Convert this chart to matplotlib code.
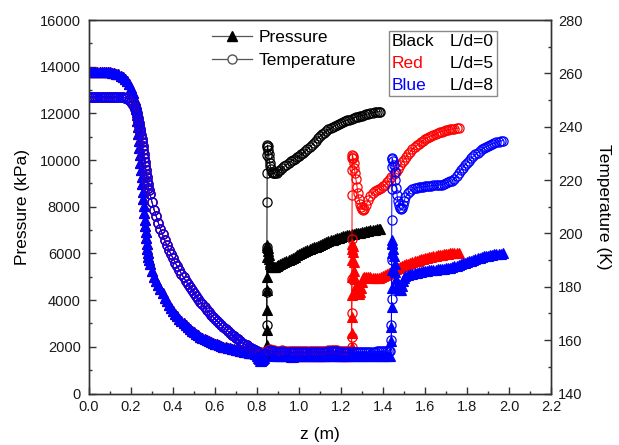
import matplotlib
matplotlib.use("Agg")
import matplotlib.pyplot as plt
from matplotlib.lines import Line2D
from matplotlib.patches import Rectangle
from matplotlib.ticker import MultipleLocator, FormatStrFormatter

plt.rcParams["font.family"] = ["Liberation Sans", "DejaVu Sans"]

# ---------------------------------------------------------------------------
# Converging section (identical for all three cases)
# ---------------------------------------------------------------------------
z_inlet = [0.00, 0.01, 0.02, 0.03, 0.04, 0.05, 0.06, 0.07, 0.08, 0.09, 0.10, 0.11,
           0.12, 0.13, 0.14, 0.15, 0.16, 0.17, 0.18, 0.19, 0.20, 0.21, 0.22,
           0.2225, 0.225, 0.2275, 0.23, 0.2325, 0.235, 0.2375, 0.24, 0.2425, 0.245,
           0.2475, 0.25, 0.2525, 0.255, 0.2575, 0.26, 0.2625, 0.265, 0.2675, 0.27,
           0.2725, 0.275, 0.2775, 0.28, 0.2825, 0.285,
           0.29, 0.30, 0.31, 0.32, 0.33, 0.34, 0.35, 0.36, 0.37, 0.38, 0.39, 0.40,
           0.41, 0.42, 0.43, 0.44, 0.45, 0.46, 0.47, 0.48, 0.49, 0.50, 0.51, 0.52,
           0.53, 0.54, 0.55, 0.56, 0.57, 0.58, 0.59, 0.60, 0.61, 0.62, 0.63, 0.64,
           0.65, 0.66, 0.67, 0.68, 0.69, 0.70, 0.71, 0.72, 0.73, 0.74, 0.75, 0.76,
           0.77, 0.78, 0.79]
p_inlet = [13780, 13780, 13780, 13780, 13780, 13780, 13778, 13773, 13768, 13763, 13755,
           13745, 13730, 13705, 13670, 13620, 13560, 13480, 13380, 13250, 13090, 12870,
           12560,
           12400, 12200, 11950, 11680, 11420, 11120, 10820, 10520, 10200, 9890, 9570,
           9270, 8960, 8650, 8340, 8040, 7740, 7450, 7180, 6910, 6660, 6420, 6210,
           6010, 5830, 5700,
           5550, 5250, 5010, 4810, 4630, 4460, 4290, 4110, 3950, 3800, 3670, 3550,
           3420, 3310, 3210, 3120, 3030, 2940, 2855, 2775, 2695, 2620, 2560, 2500,
           2440, 2390, 2340, 2290, 2250, 2210, 2170, 2130, 2100, 2070, 2040, 2010,
           1985, 1960, 1940, 1915, 1895, 1875, 1855, 1835, 1815, 1795, 1775, 1755,
           1735, 1715, 1695]
t_inlet = [251.2, 251.2, 251.2, 251.2, 251.2, 251.2, 251.2, 251.2, 251.2, 251.2, 251.2,
           251.2, 251.2, 251.2, 251.2, 251.2, 251.1, 250.9, 250.6, 250.1, 249.4, 248.3,
           246.8,
           246.5, 245.9, 245.1, 244.2, 243.3, 242.3, 241.3, 240.2, 239.1, 238.0, 236.8,
           235.5, 234.2, 232.8, 231.4, 229.9, 228.4, 226.9, 225.4, 223.9, 222.4, 221.0,
           219.7, 218.4, 217.1, 216.1,
           214.7, 211.7, 208.9, 206.4, 204.0, 201.7, 199.6, 197.6, 195.6, 193.9, 192.3,
           190.7, 189.1, 187.7, 186.3, 184.9, 183.6, 182.3, 181.1, 179.9, 178.7, 177.6,
           176.5, 175.4, 174.4, 173.4, 172.4, 171.4, 170.5, 169.6, 168.8, 168.0, 167.2,
           166.4, 165.6, 164.8, 164.1, 163.4, 162.7, 162.1, 161.5, 160.9, 160.3, 159.7,
           159.1, 158.6, 158.1, 157.6, 157.1, 156.7, 156.3]

# ---------------------------------------------------------------------------
# L/d = 0 (black)
# ---------------------------------------------------------------------------
z_ld0 = [0.80, 0.81, 0.82, 0.83, 0.84, 0.8455,
         0.846, 0.8465, 0.847, 0.8475, 0.848, 0.8485, 0.849, 0.8495,
         0.851, 0.853, 0.855, 0.857, 0.860, 0.864, 0.868, 0.873, 0.878, 0.883, 0.888, 0.895,
         0.90, 0.91, 0.92, 0.93, 0.94, 0.95, 0.96, 0.97, 0.98, 0.99, 1.00, 1.01, 1.02,
         1.03, 1.04, 1.05, 1.06, 1.07, 1.08, 1.09, 1.10, 1.11, 1.12, 1.13, 1.14, 1.15,
         1.16, 1.17, 1.18, 1.19, 1.20, 1.21, 1.22, 1.23, 1.24, 1.25, 1.26, 1.27, 1.28,
         1.29, 1.30, 1.31, 1.32, 1.33, 1.34, 1.35, 1.36, 1.37, 1.38, 1.385]
p_ld0 = [1680, 1660, 1645, 1630, 1620, 1640,
         2060, 2700, 3560, 4420, 5000, 5850, 6280, 6350,
         6250, 6100, 5920, 5760, 5620, 5530, 5460, 5420, 5410, 5420, 5440, 5470,
         5495, 5535, 5575, 5615, 5660, 5715, 5765, 5815, 5865, 5915, 5965, 6010, 6050,
         6095, 6135, 6175, 6215, 6255, 6295, 6335, 6375, 6415, 6460, 6500, 6530, 6560,
         6590, 6620, 6650, 6680, 6710, 6735, 6755, 6775, 6795, 6815, 6835, 6855, 6875,
         6895, 6915, 6935, 6955, 6975, 6995, 7010, 7020, 7030, 7040, 7045]
t_ld0 = [156.0, 155.6, 155.3, 155.0, 154.8, 156.0,
         165.5, 178.0, 194.9, 211.8, 222.5, 229.3, 232.5, 233.1,
         232.6, 231.4, 229.8, 228.2, 226.4, 225.1, 224.0, 223.2, 222.8, 222.6, 222.6, 222.8,
         223.3, 223.9, 224.6, 225.2, 225.8, 226.5, 227.0, 227.5, 228.0, 228.5, 229.0, 229.6,
         230.2, 230.9, 231.5, 232.3, 233.0, 233.9, 234.8, 235.6, 236.4, 237.1, 237.8, 238.4,
         239.0, 239.5, 239.9, 240.3, 240.7, 241.1, 241.5, 241.8, 242.1, 242.4, 242.7, 243.0,
         243.3, 243.6, 243.8, 244.0, 244.2, 244.4, 244.6, 244.8, 245.0, 245.2, 245.4, 245.5,
         245.6, 245.7]

# ---------------------------------------------------------------------------
# L/d = 5 (red)
# ---------------------------------------------------------------------------
z_ld5 = [0.80, 0.81, 0.82, 0.83, 0.84, 0.85, 0.86, 0.87, 0.88, 0.89, 0.90, 0.91, 0.92,
         0.93, 0.94, 0.95, 0.96, 0.97, 0.98, 0.99, 1.00, 1.01, 1.02, 1.03, 1.04, 1.05,
         1.06, 1.07, 1.08, 1.09, 1.10, 1.11, 1.12, 1.13, 1.14, 1.15, 1.16, 1.17, 1.18,
         1.19, 1.20, 1.21, 1.22, 1.23, 1.24,
         1.250, 1.2505, 1.251, 1.2515, 1.252, 1.2525, 1.253, 1.2535, 1.254,
         1.256, 1.258, 1.261, 1.264, 1.267, 1.271, 1.276, 1.281, 1.286, 1.291, 1.296,
         1.301, 1.306, 1.311,
         1.32, 1.33, 1.34, 1.35, 1.36, 1.37, 1.38, 1.39, 1.40, 1.41, 1.42, 1.43, 1.44,
         1.45, 1.46, 1.47, 1.48, 1.49, 1.50, 1.51, 1.52, 1.53, 1.54, 1.55, 1.56, 1.57,
         1.58, 1.59, 1.60, 1.61, 1.62, 1.63, 1.64, 1.65, 1.66, 1.67, 1.68, 1.69, 1.70,
         1.71, 1.72, 1.73, 1.74, 1.75, 1.76]
p_ld5 = [1650, 1640, 1630, 1625, 1630, 1660, 1675, 1665, 1645, 1630, 1625, 1630, 1635,
         1630, 1620, 1610, 1605, 1605, 1610, 1615, 1620, 1620, 1615, 1610, 1610, 1615,
         1620, 1625, 1625, 1620, 1615, 1615, 1620, 1625, 1630, 1630, 1630, 1630, 1630,
         1625, 1620, 1615, 1610, 1610, 1610,
         1760, 1990, 2600, 3270, 4200, 4990, 5700, 6200, 6420,
         6330, 6050, 5650, 5250, 4920, 4620, 4420, 4310, 4280, 4340, 4530, 4780, 4930, 4990,
         5000, 4990, 4980, 4965, 4955, 4950, 4958, 4980, 5020, 5070, 5120, 5170, 5220,
         5270, 5320, 5370, 5410, 5450, 5490, 5530, 5565, 5600, 5635, 5665, 5695, 5720,
         5750, 5775, 5800, 5825, 5845, 5865, 5885, 5905, 5920, 5935, 5950, 5965, 5980,
         5990, 6000, 6010, 6020, 6030, 6040]
t_ld5 = [155.9, 155.6, 155.4, 155.3, 155.5, 156.2, 156.5, 156.4, 156.2, 156.1, 156.0,
         156.1, 156.2, 156.1, 156.0, 155.9, 155.8, 155.8, 155.9, 156.0, 156.0, 156.0,
         155.9, 155.9, 155.9, 155.9, 156.0, 156.1, 156.1, 156.0, 155.9, 155.9, 156.0,
         156.1, 156.2, 156.2, 156.2, 156.2, 156.2, 156.1, 156.0, 155.9, 155.8, 155.8, 155.8,
         157.3, 161.1, 170.0, 183.0, 198.0, 214.3, 223.7, 228.1, 229.3,
         229.0, 228.1, 226.5, 224.5, 222.5, 220.3, 217.5, 215.0, 212.8, 211.0, 209.8,
         209.0, 208.8, 209.3,
         210.8, 212.6, 214.0, 215.1, 215.8, 216.3, 216.8, 217.2, 217.7, 218.3, 219.1,
         220.0, 221.0, 222.1, 223.2, 224.3, 225.5, 226.6, 227.7, 228.7, 229.7, 230.6,
         231.5, 232.3, 233.0, 233.6, 234.2, 234.8, 235.3, 235.8, 236.2, 236.6, 237.0,
         237.3, 237.6, 237.9, 238.2, 238.4, 238.6, 238.8, 239.0, 239.2, 239.3, 239.4, 239.5]

# ---------------------------------------------------------------------------
# L/d = 8 (blue)
# ---------------------------------------------------------------------------
z_ld8 = [0.80, 0.805, 0.81, 0.815, 0.82, 0.825, 0.83, 0.835, 0.84,
         0.85, 0.86, 0.87, 0.88, 0.89, 0.90, 0.91, 0.92, 0.93, 0.94, 0.95, 0.96, 0.97,
         0.98, 0.99, 1.00, 1.01, 1.02, 1.03, 1.04, 1.05, 1.06, 1.07, 1.08, 1.09, 1.10,
         1.11, 1.12, 1.13, 1.14, 1.15, 1.16, 1.17, 1.18, 1.19, 1.20, 1.21, 1.22, 1.23,
         1.24, 1.25, 1.26, 1.27, 1.28, 1.29, 1.30, 1.31, 1.32, 1.33, 1.34, 1.35, 1.36,
         1.37, 1.38, 1.39, 1.40, 1.41, 1.42, 1.43, 1.435,
         1.4395, 1.440, 1.4405, 1.441, 1.4415, 1.442, 1.4425, 1.443,
         1.445, 1.448, 1.451, 1.455, 1.459, 1.463, 1.467, 1.471, 1.476, 1.481, 1.486,
         1.491, 1.496, 1.501, 1.506,
         1.52, 1.53, 1.54, 1.55, 1.56, 1.57, 1.58, 1.59, 1.60, 1.61, 1.62, 1.63, 1.64,
         1.65, 1.66, 1.67, 1.68, 1.69, 1.70, 1.71, 1.72, 1.73, 1.74, 1.75, 1.76, 1.77,
         1.78, 1.79, 1.80, 1.81, 1.82, 1.83, 1.84, 1.85, 1.86, 1.87, 1.88, 1.89, 1.90,
         1.91, 1.92, 1.93, 1.94, 1.95, 1.96, 1.97]
p_ld8 = [1600, 1530, 1460, 1410, 1400, 1420, 1470, 1530, 1590,
         1650, 1660, 1645, 1625, 1610, 1605, 1610, 1615, 1610, 1600,
         1590, 1585, 1585, 1590, 1595, 1600, 1600, 1595, 1590, 1590,
         1595, 1600, 1605, 1605, 1600, 1595, 1595, 1600, 1605, 1610,
         1610, 1610, 1610, 1610, 1605, 1600, 1595, 1590, 1590, 1590,
         1590, 1590, 1590, 1590, 1595, 1600, 1600, 1600, 1600, 1600,
         1600, 1605, 1610, 1610, 1610, 1615, 1620, 1620, 1620, 1625,
         2270, 2850, 3700, 4500, 5300, 6000, 6400, 6570,
         6450, 6200, 5900, 5550, 5200, 4900, 4650, 4500, 4430, 4420, 4450, 4600, 4800,
         4950, 5030,
         5080, 5110, 5130, 5150, 5170, 5190, 5210, 5230, 5250, 5265,
         5280, 5290, 5300, 5310, 5320, 5330, 5340, 5350, 5360, 5375,
         5395, 5420, 5450, 5480, 5510, 5540, 5570, 5600, 5630, 5660,
         5690, 5720, 5750, 5785, 5815, 5845, 5870, 5890, 5910, 5928,
         5943, 5958, 5970, 5980, 5990, 5998]
t_ld8 = [155.8, 155.0, 154.2, 153.5, 153.2, 153.4, 154.0, 154.7, 155.3,
         156.0, 156.2, 156.0, 155.8, 155.7, 155.6, 155.7, 155.8, 155.7, 155.6,
         155.5, 155.4, 155.4, 155.5, 155.6, 155.6, 155.6, 155.5, 155.5, 155.5,
         155.5, 155.6, 155.7, 155.7, 155.6, 155.5, 155.5, 155.6, 155.7, 155.8,
         155.8, 155.8, 155.8, 155.8, 155.7, 155.6, 155.5, 155.4, 155.4, 155.4,
         155.4, 155.4, 155.4, 155.4, 155.5, 155.6, 155.6, 155.6, 155.6, 155.6,
         155.6, 155.7, 155.8, 155.8, 155.8, 155.9, 156.0, 156.0, 156.0, 156.0,
         159.9, 165.5, 175.5, 189.9, 204.9, 216.8, 225.0, 228.1,
         228.0, 227.0, 225.5, 223.0, 220.0, 217.0, 214.3, 212.0, 210.5, 209.5, 209.3,
         209.7, 210.8, 212.2, 213.5,
         215.0, 216.0, 216.6, 217.0, 217.2, 217.3, 217.4, 217.5, 217.6, 217.7,
         217.8, 217.9, 218.0, 218.0, 218.1, 218.2, 218.3, 218.5, 218.8, 219.2,
         219.5, 219.7, 220.5, 221.5, 222.6, 223.6, 224.6, 225.6, 226.5, 227.3,
         228.1, 228.9, 229.6, 230.3, 230.9, 231.5, 232.0, 232.4, 232.8, 233.2,
         233.5, 233.8, 234.1, 234.4, 234.6, 234.8]

case_names = ["Black", "Red", "Blue"]
case_tags = ["L/d=0", "L/d=5", "L/d=8"]
case_colors = ["#000000", "#ff0000", "#0000ff"]
legend_labels = ["Pressure", "Temperature"]

cases = [
    (z_inlet + z_ld0, p_inlet + p_ld0, t_inlet + t_ld0),
    (z_inlet + z_ld5, p_inlet + p_ld5, t_inlet + t_ld5),
    (z_inlet + z_ld8, p_inlet + p_ld8, t_inlet + t_ld8),
]

# ---------------------------------------------------------------------------
W, H = 619, 445
fig = plt.figure(figsize=(W / 100, H / 100), dpi=100)
ax = fig.add_axes([89 / W, 1 - 393.5 / H, (551 - 89) / W, (393.5 - 20) / H])
ax2 = ax.twinx()

for (z, p, t), col in zip(cases, case_colors):
    ax.plot(z, p, "-", color=col, lw=0.7, marker="^", ms=7.2,
            mfc=col, mec=col, mew=0.8)
for (z, p, t), col in zip(cases, case_colors):
    ax2.plot(z, t, "-", color=col, lw=0.7, marker="o", ms=6.6,
             mfc="none", mec=col, mew=0.9)

ax.set_xlim(0, 2.2)
ax.set_ylim(0, 16000)
ax2.set_ylim(140, 280)

ax.xaxis.set_major_locator(MultipleLocator(0.2))
ax.xaxis.set_minor_locator(MultipleLocator(0.1))
ax.xaxis.set_major_formatter(FormatStrFormatter("%.1f"))
ax.yaxis.set_major_locator(MultipleLocator(2000))
ax.yaxis.set_minor_locator(MultipleLocator(1000))
ax2.yaxis.set_major_locator(MultipleLocator(20))
ax2.yaxis.set_minor_locator(MultipleLocator(10))

spine_col = "#333333"
for a in (ax, ax2):
    for s in a.spines.values():
        s.set_color(spine_col)
        s.set_linewidth(1.0)
    a.tick_params(which="both", direction="in", colors=spine_col,
                  labelcolor="#1a1a1a", labelsize=10.5, width=1.0)
    a.tick_params(which="major", length=5)
    a.tick_params(which="minor", length=2.5)
ax.tick_params(which="both", top=False, right=False)
ax.tick_params(axis="x", pad=5)
ax.tick_params(axis="y", pad=6)
ax2.tick_params(axis="y", pad=5)

fig.text(22 / W, 1 - 207 / H, "Pressure (kPa)", rotation=90, ha="center",
         va="center", fontsize=12.5)
fig.text(604 / W, 1 - 207 / H, "Temperature (K)", rotation=270, ha="center",
         va="center", fontsize=12.5)
fig.text(320 / W, 1 - 435 / H, "z (m)", ha="center", va="center", fontsize=12.5)

# marker legend
handles = [
    Line2D([], [], color="#555555", lw=0.9, marker="^", ms=6.5, mfc="k", mec="k"),
    Line2D([], [], color="#555555", lw=0.9, marker="o", ms=6.5, mfc="white",
           mec="#555555"),
]
ax2.legend(handles, legend_labels, loc="upper left",
           bbox_to_anchor=(212 / W, 1 - 30 / H), bbox_transform=fig.transFigure,
           frameon=False, fontsize=12.5, handlelength=2.3, handletextpad=0.4,
           labelspacing=0.45, borderpad=0, borderaxespad=0)

# colour key box
fig.add_artist(Rectangle((389 / W, 1 - 96 / H), (497 - 389) / W, (96 - 31) / H,
                         transform=fig.transFigure, fill=False,
                         edgecolor="#8a8a8a", lw=1.0))
for name, tag, col, yrow in zip(case_names, case_tags, case_colors, [42, 64, 86]):
    fig.text(392 / W, 1 - yrow / H, name, color=col, ha="left", va="center",
             fontsize=12.5)
    fig.text(494 / W, 1 - yrow / H, tag, color="k", ha="right", va="center",
             fontsize=12.5)

fig.savefig("out.png", dpi=100)
